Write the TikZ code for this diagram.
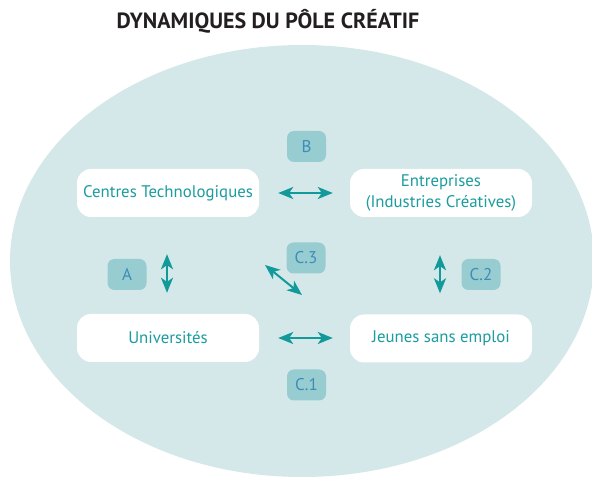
\documentclass[tikz,border=0pt]{standalone}
\usepackage{fontspec}
\setmainfont{PT Sans}
\usetikzlibrary{arrows.meta}
\definecolor{bgell}{HTML}{D4E8EA}
\definecolor{lblfill}{HTML}{97CCD1}
\definecolor{lbltext}{HTML}{3D8DB8}
\definecolor{maintext}{HTML}{1B9C9E}
\definecolor{arrowcol}{HTML}{12999A}
\definecolor{titlecol}{HTML}{231F20}
\tikzset{
  boxnode/.style={fill=white, rounded corners=14pt, minimum width=182pt, minimum height=48pt, inner sep=0pt, align=center, text=maintext, font=\fontsize{16.8}{20.5}\selectfont},
  lblnode/.style={fill=lblfill, rounded corners=7pt, minimum width=39pt, minimum height=31pt, inner sep=0pt, text=lbltext, font=\fontsize{17}{20}\selectfont},
  dblarrow/.style={draw=arrowcol, line width=2pt, {Stealth[length=15pt, width=12pt, inset=4pt]}-{Stealth[length=15pt, width=12pt, inset=4pt]}}
}
\begin{document}
\begin{tikzpicture}[x=1pt, y=-1pt]
\useasboundingbox (0,0) rectangle (592,478);
\begin{scope}
\clip (0,0) rectangle (592,478);
\fill[bgell] (302,261) ellipse [x radius=292, y radius=216];
\end{scope}
\node[font=\fontsize{22}{25}\selectfont\bfseries, text=titlecol] (title) at (268,21) {DYNAMIQUES DU PÔLE CRÉATIF};
\node[boxnode] (ct) at (168,193) {Centres Technologiques};
\node[boxnode] (ent) at (441,193) {Entreprises\\(Industries Créatives)};
\node[boxnode] (univ) at (168,338) {Universités};
\node[boxnode] (jeunes) at (441,338.5) {Jeunes sans emploi};
\node[lblnode] (lB) at (306.5,146.5) {B};
\node[lblnode] (lC3) at (306,258) {C.3};
\node[lblnode] (lC2) at (481,274.5) {C.2};
\node[lblnode] (lA) at (127,274.5) {A};
\node[lblnode] (lC1) at (306.5,385) {C.1};
\draw[dblarrow, shorten <=19pt, shorten >=17pt] (ct.east) -- (ent.west);
\draw[dblarrow, shorten <=19pt, shorten >=17pt] (univ.east) -- (jeunes.west |- univ.east);
\draw[dblarrow, shorten <=37pt, shorten >=21pt] (ct.south) ++(-1,0) coordinate (a1) (a1) -- (a1 |- univ.north);
\draw[dblarrow, shorten <=38pt, shorten >=21pt] (ent.south) ++(-1,0) coordinate (c1) (c1) -- (c1 |- jeunes.north);
\coordinate (d1) at (265,265);
\coordinate (d2) at (302,295);
\draw[dblarrow] (d1) -- (d2);
\end{tikzpicture}
\end{document}
